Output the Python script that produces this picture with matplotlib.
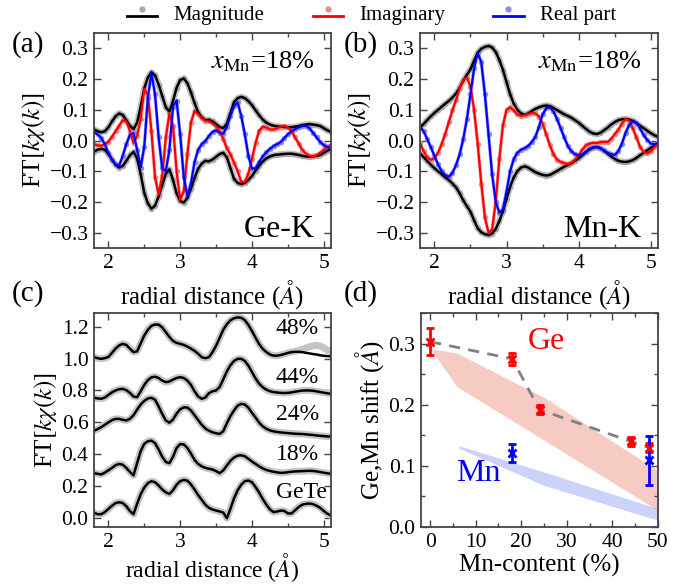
import numpy as np
import matplotlib
matplotlib.use("Agg")
import matplotlib.pyplot as plt
from matplotlib.lines import Line2D
from matplotlib.legend_handler import HandlerBase
from matplotlib.ticker import MultipleLocator

plt.rcParams['font.family'] = 'serif'
plt.rcParams['font.serif'] = ['Liberation Serif', 'DejaVu Serif']
plt.rcParams['mathtext.fontset'] = 'stix'
plt.rcParams['axes.unicode_minus'] = True

# radial grid (Angstrom), 0.05 steps from 1.80 to 5.10
r = np.round(np.arange(1.80, 5.1001, 0.05), 2)

# (a) Ge-K edge, x_Mn = 18%
mag_a = [0.036, 0.030, 0.027, 0.030, 0.043, 0.062, 0.079, 0.088, 0.083, 0.066,
         0.048, 0.037, 0.058, 0.110, 0.170, 0.205, 0.222, 0.212, 0.182, 0.145,
         0.108, 0.094, 0.128, 0.172, 0.197, 0.202, 0.187, 0.157, 0.122, 0.092,
         0.075, 0.066, 0.068, 0.062, 0.053, 0.044, 0.040, 0.055, 0.090, 0.125,
         0.138, 0.142, 0.138, 0.128, 0.115, 0.098, 0.082, 0.068, 0.058, 0.052,
         0.048, 0.046, 0.045, 0.044, 0.043, 0.043, 0.045, 0.047, 0.050, 0.052,
         0.053, 0.052, 0.050, 0.047, 0.040, 0.033, 0.028]
imag_a = [-0.012, -0.016, -0.017, -0.013, -0.004, 0.012, 0.030, 0.048, 0.066, 0.062,
          0.032, -0.008, 0.015, 0.070, 0.168, 0.148, 0.030, -0.120, -0.176, -0.115,
          0.010, 0.088, 0.048, -0.100, -0.194, -0.165, -0.045, 0.058, 0.097, 0.086,
          0.072, 0.064, 0.062, 0.056, 0.046, 0.030, 0.005, -0.025, -0.045, -0.072,
          -0.100, -0.135, -0.135, -0.108, -0.060, -0.008, 0.032, 0.045, 0.042, 0.036,
          0.036, 0.040, 0.045, 0.048, 0.043, 0.030, 0.010, -0.010, -0.030, -0.043,
          -0.050, -0.052, -0.048, -0.040, -0.030, -0.020, -0.015]
real_a = [0.028, 0.020, 0.008, -0.012, -0.040, -0.062, -0.078, -0.082, -0.050, -0.012,
          0.018, 0.024, -0.030, -0.088, -0.020, 0.140, 0.220, 0.150, 0.010, -0.090,
          -0.100, -0.030, 0.110, 0.130, 0.020, -0.120, -0.180, -0.140, -0.070, -0.030,
          -0.012, -0.002, 0.015, 0.028, 0.033, 0.025, 0.022, 0.045, 0.080, 0.112,
          0.124, 0.080, 0.020, -0.050, -0.092, -0.090, -0.070, -0.052, -0.038, -0.027,
          -0.018, -0.012, -0.005, 0.008, 0.020, 0.030, 0.037, 0.043, 0.047, 0.048,
          0.040, 0.025, 0.010, -0.005, -0.015, -0.022, -0.025]

# (b) Mn-K edge, x_Mn = 18%
mag_b = [0.042, 0.054, 0.067, 0.079, 0.090, 0.100, 0.110, 0.120, 0.129, 0.140,
         0.153, 0.172, 0.195, 0.214, 0.232, 0.260, 0.286, 0.299, 0.305, 0.308,
         0.303, 0.288, 0.262, 0.230, 0.190, 0.150, 0.120, 0.100, 0.088, 0.084,
         0.088, 0.096, 0.103, 0.108, 0.112, 0.114, 0.112, 0.106, 0.099, 0.092,
         0.085, 0.080, 0.074, 0.066, 0.058, 0.048, 0.038, 0.029, 0.023, 0.021,
         0.025, 0.033, 0.042, 0.052, 0.060, 0.066, 0.069, 0.070, 0.068, 0.064,
         0.057, 0.048, 0.040, 0.032, 0.024, 0.017, 0.012]
imag_b = [-0.008, -0.035, -0.055, -0.063, -0.058, -0.040, -0.012, 0.022, 0.060, 0.098,
          0.132, 0.170, 0.198, 0.205, 0.175, 0.100, -0.010, -0.140, -0.250, -0.300,
          -0.290, -0.200, -0.060, 0.050, 0.100, 0.108, 0.098, 0.085, 0.080, 0.082,
          0.086, 0.090, 0.088, 0.078, 0.055, 0.020, -0.015, -0.045, -0.062, -0.070,
          -0.074, -0.076, -0.072, -0.062, -0.048, -0.030, -0.016, -0.010, -0.008, -0.008,
          -0.006, -0.004, -0.005, 0.005, 0.020, 0.035, 0.055, 0.070, 0.065, 0.040,
          0.010, -0.020, -0.037, -0.042, -0.035, -0.022, -0.012]
real_b = [0.045, 0.030, 0.005, -0.022, -0.050, -0.078, -0.100, -0.113, -0.118, -0.105,
          -0.080, -0.045, 0.005, 0.070, 0.150, 0.235, 0.285, 0.255, 0.150, 0.020,
          -0.110, -0.200, -0.235, -0.225, -0.165, -0.100, -0.060, -0.040, -0.030, -0.025,
          -0.018, -0.005, 0.012, 0.045, 0.085, 0.105, 0.108, 0.095, 0.070, 0.040,
          0.010, -0.018, -0.035, -0.045, -0.048, -0.045, -0.036, -0.027, -0.022, -0.020,
          -0.025, -0.032, -0.040, -0.045, -0.047, -0.035, -0.010, 0.025, 0.050, 0.062,
          0.058, 0.040, 0.018, 0.002, -0.010, -0.012, -0.008]

# (c) Ge-K magnitudes, shifted vertically
c_gete = [0.035, 0.025, 0.025, 0.038, 0.058, 0.078, 0.095, 0.100, 0.095, 0.075,
          0.045, 0.025, 0.090, 0.150, 0.192, 0.220, 0.232, 0.225, 0.205, 0.180,
          0.162, 0.152, 0.175, 0.210, 0.232, 0.240, 0.235, 0.212, 0.180, 0.145,
          0.115, 0.085, 0.065, 0.055, 0.048, 0.042, 0.035, 0.000, 0.060, 0.125,
          0.175, 0.210, 0.232, 0.236, 0.225, 0.195, 0.160, 0.120, 0.085, 0.055,
          0.038, 0.042, 0.048, 0.046, 0.030, 0.030, 0.050, 0.070, 0.085, 0.090,
          0.092, 0.088, 0.078, 0.065, 0.045, 0.028, 0.017]
c_18 = [0.282, 0.278, 0.274, 0.285, 0.300, 0.315, 0.332, 0.340, 0.335, 0.315,
        0.290, 0.268, 0.345, 0.420, 0.466, 0.482, 0.486, 0.470, 0.430, 0.385,
        0.352, 0.345, 0.385, 0.440, 0.464, 0.462, 0.440, 0.405, 0.365, 0.340,
        0.325, 0.315, 0.310, 0.305, 0.295, 0.282, 0.300, 0.330, 0.360, 0.380,
        0.392, 0.394, 0.388, 0.372, 0.355, 0.340, 0.325, 0.312, 0.302, 0.296,
        0.291, 0.287, 0.284, 0.285, 0.288, 0.291, 0.293, 0.294, 0.295, 0.296,
        0.297, 0.296, 0.293, 0.289, 0.285, 0.281, 0.278]
c_24 = [0.547, 0.558, 0.570, 0.585, 0.600, 0.614, 0.622, 0.622, 0.616, 0.612,
        0.622, 0.645, 0.680, 0.712, 0.735, 0.750, 0.754, 0.742, 0.700, 0.653,
        0.612, 0.598, 0.618, 0.655, 0.682, 0.694, 0.693, 0.675, 0.645, 0.615,
        0.585, 0.562, 0.548, 0.538, 0.532, 0.528, 0.545, 0.595, 0.640, 0.675,
        0.705, 0.716, 0.712, 0.692, 0.660, 0.630, 0.598, 0.575, 0.560, 0.550,
        0.544, 0.540, 0.537, 0.535, 0.533, 0.531, 0.529, 0.528, 0.527, 0.525,
        0.523, 0.521, 0.518, 0.516, 0.514, 0.512, 0.511]
c_44 = [0.755, 0.750, 0.748, 0.755, 0.772, 0.788, 0.800, 0.808, 0.810, 0.802,
        0.785, 0.762, 0.758, 0.795, 0.835, 0.865, 0.882, 0.886, 0.878, 0.862,
        0.852, 0.856, 0.868, 0.878, 0.883, 0.878, 0.862, 0.835, 0.795, 0.762,
        0.748, 0.755, 0.783, 0.795, 0.800, 0.822, 0.870, 0.920, 0.958, 0.985,
        0.998, 0.998, 0.985, 0.955, 0.915, 0.875, 0.842, 0.820, 0.805, 0.795,
        0.790, 0.787, 0.785, 0.784, 0.785, 0.788, 0.792, 0.796, 0.799, 0.800,
        0.800, 0.798, 0.794, 0.790, 0.786, 0.782, 0.779]
c_48 = [1.008, 1.002, 0.998, 1.002, 1.010, 1.035, 1.062, 1.082, 1.092, 1.085,
        1.062, 1.040, 1.045, 1.095, 1.145, 1.180, 1.205, 1.213, 1.212, 1.195,
        1.165, 1.135, 1.110, 1.098, 1.092, 1.085, 1.075, 1.062, 1.048, 1.030,
        1.008, 1.002, 1.008, 1.040, 1.080, 1.130, 1.180, 1.215, 1.240, 1.252,
        1.258, 1.255, 1.240, 1.210, 1.172, 1.130, 1.090, 1.060, 1.040, 1.025,
        1.018, 1.018, 1.022, 1.028, 1.035, 1.040, 1.042, 1.042, 1.040, 1.036,
        1.032, 1.028, 1.025, 1.020, 1.017, 1.015, 1.013]
# measured 48% magnitude where it departs from the fit (r >= 4.60)
c_48_data_tail = [1.045, 1.050, 1.058, 1.066, 1.074, 1.080, 1.082, 1.078, 1.068, 1.052, 1.040]
c_curves = [c_gete, c_18, c_24, c_44, c_48]
c_labels = ['GeTe', '18%', '24%', '44%', '48%']
c_label_y = [0.16, 0.40, 0.65, 0.88, 1.185]

# (d) shifts vs Mn content
ge_x = [0, 18, 24, 44, 48]
ge_shift = [0.303, 0.275, 0.192, 0.140, 0.130]
ge_err = [0.022, 0.010, 0.008, 0.007, 0.0075]
mn_x = [18, 48]
mn_shift = [0.121, 0.109]
mn_err = [0.0155, 0.040]
ge_band_x = [0, 6, 25, 50]
ge_band_hi = [0.292, 0.284, 0.212, 0.092]
ge_band_lo = [0.292, 0.229, 0.142, 0.027]
mn_band_x = [6.3, 25, 50]
mn_band_hi = [0.133, 0.090, 0.030]
mn_band_lo = [0.129, 0.068, 0.011]

W, H = 682, 584
fig = plt.figure(figsize=(W / 100, H / 100), dpi=100)


def box(x0, y0, x1, y1):
    return [x0 / W, 1 - y1 / H, (x1 - x0) / W, (y1 - y0) / H]


ax_a = fig.add_axes(box(94, 33, 331, 248))
ax_b = fig.add_axes(box(420, 33, 658, 248))
ax_c = fig.add_axes(box(94, 313, 331, 527))
ax_d = fig.add_axes(box(421, 313, 658, 527))

SPINE = '#444444'
for ax in (ax_a, ax_b, ax_c, ax_d):
    ax.tick_params(which='both', direction='in', top=True, right=True,
                   labelsize=15.5, width=1, color=SPINE)
    ax.tick_params(which='major', length=5, pad=4)
    ax.tick_params(which='minor', length=3)
    for s in ax.spines.values():
        s.set_color(SPINE)
        s.set_linewidth(1.3)

GRAY_BAND, GRAY_DOT = '#c4c4c4', '#a9a9a9'
RED_BAND, RED_DOT = '#f7b0b0', '#f08a8a'
BLUE_BAND, BLUE_DOT = '#b0b0f7', '#8a8af0'
LABEL_FS = 18


def ft_panel(ax, mag, imag, real, label):
    mag = np.array(mag)
    for y in (mag, -mag):
        ax.plot(r, y, '-', color=GRAY_BAND, lw=4.5, solid_capstyle='round')
        ax.plot(r, y, 'o', color=GRAY_DOT, ms=4, mew=0)
    ax.plot(r, imag, '-', color=RED_BAND, lw=2.5)
    ax.plot(r, imag, 'o', color=RED_DOT, ms=4, mew=0)
    ax.plot(r, real, '-', color=BLUE_BAND, lw=2.5)
    ax.plot(r, real, 'o', color=BLUE_DOT, ms=4, mew=0)
    ax.plot(r, mag, '-', color='black', lw=1.8)
    ax.plot(r, -mag, '-', color='black', lw=1.8)
    ax.plot(r, imag, '-', color='red', lw=1.6)
    ax.plot(r, real, '-', color='blue', lw=1.6)
    ax.set_xlim(1.8, 5.1)
    ax.set_ylim(-0.35, 0.35)
    ax.xaxis.set_major_locator(MultipleLocator(1))
    ax.xaxis.set_minor_locator(MultipleLocator(0.5))
    ax.yaxis.set_major_locator(MultipleLocator(0.1))
    ax.set_xlabel(r'radial distance ($Å$)', fontsize=LABEL_FS, labelpad=4)
    ax.set_ylabel(r'FT$[k\chi(k)]$', fontsize=LABEL_FS, labelpad=2)
    ax.text(0.93, 0.865, r'$x_{\rm Mn}$=18%', transform=ax.transAxes,
            ha='right', va='center', fontsize=19)
    ax.text(0.93, 0.05, label, transform=ax.transAxes,
            ha='right', va='baseline', fontsize=23)


ft_panel(ax_a, mag_a, imag_a, real_a, 'Ge-K')
ft_panel(ax_b, mag_b, imag_b, real_b, 'Mn-K')

# (c)
tail = r >= 4.6
for y, lab, ly in zip(c_curves, c_labels, c_label_y):
    meas = np.array(y, dtype=float)
    if lab == '48%':
        meas[tail] = c_48_data_tail
    ax_c.plot(r, meas, '-', color=GRAY_BAND, lw=5, solid_capstyle='round')
    ax_c.plot(r, y, '-', color='black', lw=1.8)
    ax_c.text(4.33, ly, lab, ha='left', va='center', fontsize=17)
ax_c.set_xlim(1.8, 5.1)
ax_c.set_ylim(-0.055, 1.285)
ax_c.xaxis.set_major_locator(MultipleLocator(1))
ax_c.xaxis.set_minor_locator(MultipleLocator(0.5))
ax_c.yaxis.set_major_locator(MultipleLocator(0.2))
ax_c.set_xlabel(r'radial distance ($Å$)', fontsize=17, labelpad=0)
ax_c.set_ylabel(r'FT$[k\chi(k)]$', fontsize=LABEL_FS, labelpad=2)

# (d)
ax_d.fill_between(ge_band_x, ge_band_lo, ge_band_hi, color='#e0553a', alpha=0.3, lw=0)
ax_d.fill_between(mn_band_x, mn_band_lo, mn_band_hi, color='#3550f0', alpha=0.25, lw=0)
ax_d.plot(ge_x, ge_shift, '--', color='#808080', lw=2, dashes=(4, 3))
ax_d.errorbar(ge_x, ge_shift, yerr=ge_err, fmt='x', color='red', ms=6, mew=2,
              elinewidth=2, capsize=3, capthick=2)
ax_d.errorbar(mn_x, mn_shift, yerr=mn_err, fmt='x', color='blue', ms=6, mew=2,
              elinewidth=2, capsize=3, capthick=2)
ax_d.text(25.5, 0.303, 'Ge', color='red', fontsize=23, ha='center', va='center')
ax_d.text(10.6, 0.087, 'Mn', color='blue', fontsize=23, ha='center', va='center')
ax_d.set_xlim(-2, 50)
ax_d.set_ylim(0, 0.35)
ax_d.xaxis.set_major_locator(MultipleLocator(10))
ax_d.xaxis.set_minor_locator(MultipleLocator(5))
ax_d.yaxis.set_major_locator(MultipleLocator(0.1))
ax_d.yaxis.set_minor_locator(MultipleLocator(0.05))
ax_d.set_xlabel('Mn-content (%)', fontsize=LABEL_FS, labelpad=2)
ax_d.set_ylabel(r'Ge,Mn shift ($Å$)', fontsize=LABEL_FS, labelpad=2)

# panel letters
for lab, (px, py) in zip(['(a)', '(b)', '(c)', '(d)'],
                         [(12, 45), (344, 45), (12, 294), (344, 294)]):
    fig.text(px / W, 1 - py / H, lab, fontsize=21, ha='left', va='center')


# legend: line with a data dot above it
class LineDot(HandlerBase):
    def create_artists(self, legend, orig, xd, yd, w, h, fs, trans):
        yc = 0.5 * h - yd
        ln = Line2D([-xd, w - xd], [yc - 2.5, yc - 2.5], color=orig.get_color(), lw=2)
        dt = Line2D([0.5 * w - xd], [yc + 2.5], marker='o', ls='', ms=4.5, mew=0,
                    color=orig.get_markerfacecolor())
        ln.set_transform(trans)
        dt.set_transform(trans)
        return [ln, dt]


handles = [Line2D([], [], color='black', markerfacecolor=GRAY_DOT),
           Line2D([], [], color='red', markerfacecolor=RED_DOT),
           Line2D([], [], color='blue', markerfacecolor=BLUE_DOT)]
fig.legend(handles, ['Magnitude', 'Imaginary', 'Real part'], ncol=3,
           loc='center', bbox_to_anchor=(0.545, 0.974), frameon=False,
           fontsize=15, handlelength=1.45, handletextpad=0.8, columnspacing=2.3,
           handler_map={Line2D: LineDot()})

fig.savefig('out.png', dpi=100)
